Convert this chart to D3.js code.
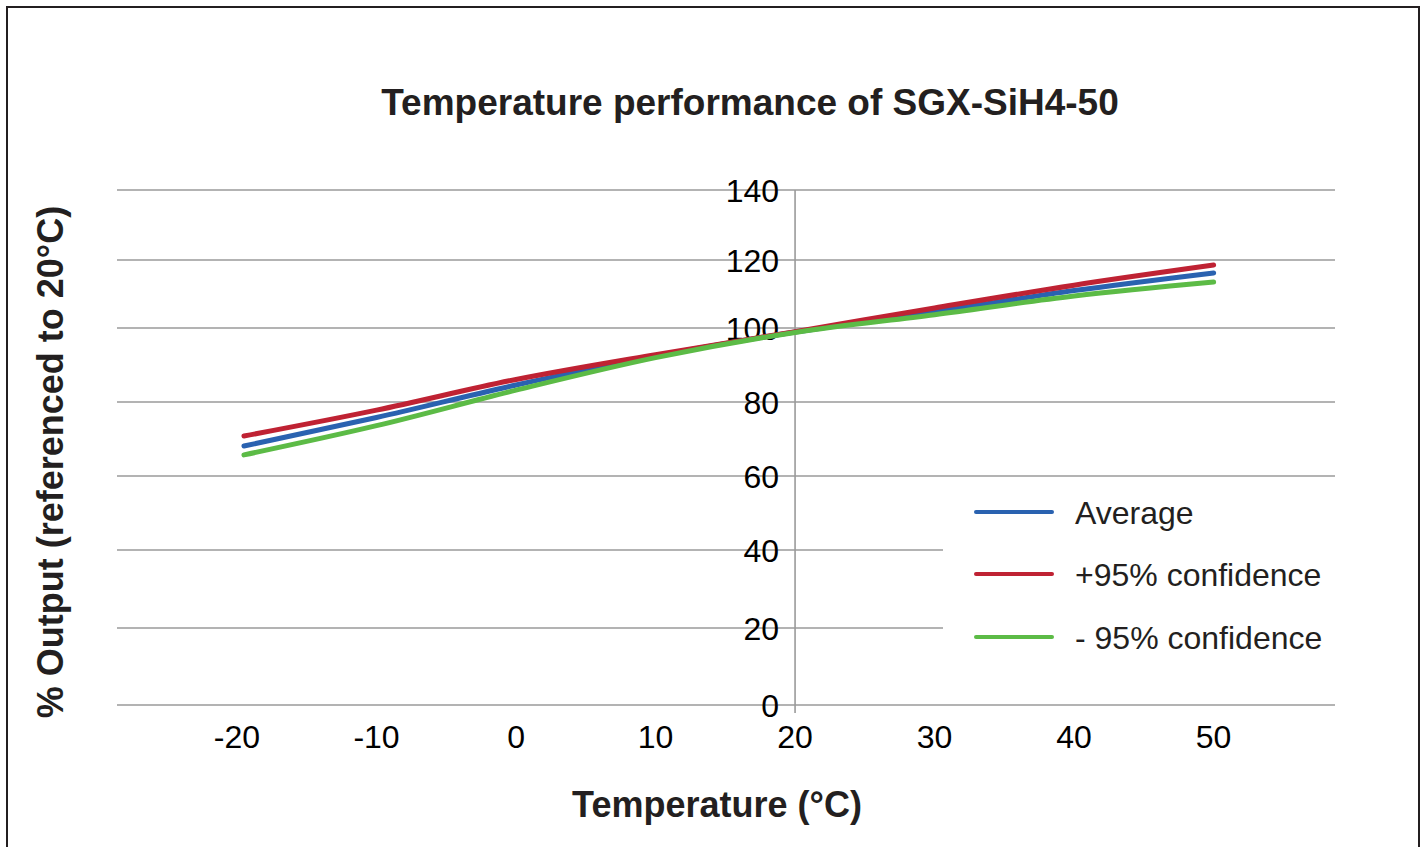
<!DOCTYPE html>
<html>
<head>
<meta charset="utf-8">
<script src="https://cdn.jsdelivr.net/npm/d3@7"></script>
<style>
  body { margin: 0; background: #fff; }
  text { font-family: "Liberation Sans", Arial, sans-serif; fill: #231f20; }
</style>
</head>
<body>
<div id="chart"></div>
<script>
// data
var temps = [-19.5, -10, 0, 10, 20, 30, 40, 50]
var average = [68.1, 75.8, 84.6, 92.4, 98.9, 104.8, 111.0, 116.2]
var plus95 = [70.8, 77.8, 86.1, 92.8, 99.0, 105.9, 112.6, 118.5]
var minus95 = [65.7, 73.6, 83.2, 92.0, 98.8, 103.9, 109.4, 113.5]
var xTicks = [-20, -10, 0, 10, 20, 30, 40, 50]
var yTicks = [0, 20, 40, 60, 80, 100, 120, 140]
var seriesNames = ["Average", "+95% confidence", "- 95% confidence"]
var seriesColors = ["#2a62b0", "#bf2233", "#5cbb46"]

var series = [average, plus95, minus95].map(function(vals, i) {
    return {
        name: seriesNames[i],
        color: seriesColors[i],
        points: vals.map(function(v, j) { return { t: temps[j], v: v } })
    }
})

var svgWidth = 1425
var svgHeight = 847

var svg = d3.select("#chart")
    .append("svg")
    .attr("width", svgWidth)
    .attr("height", svgHeight)

// frame
svg.append("rect")
    .attr("x", 7).attr("y", 7)
    .attr("width", 1412).attr("height", 860)
    .attr("fill", "none")
    .attr("stroke", "#231f20")
    .attr("stroke-width", 2)

var x = d3.scaleLinear()
    .domain([-28.6, 58.7])
    .range([117, 1335])

// the picture's gridlines are not evenly spaced, so follow them piece by piece
var y = d3.scaleLinear()
    .domain(yTicks)
    .range([705, 628, 550, 476, 402, 328, 260, 190])

// horizontal gridlines
var grid = svg.append("g")
grid.selectAll("line").data(yTicks)
    .enter().append("line")
    .attr("x1", x.range()[0])
    .attr("x2", x.range()[1])
    .attr("y1", function(d) { return y(d) })
    .attr("y2", function(d) { return y(d) })
    .attr("stroke", "#9a9a9a")
    .attr("stroke-width", 1.6)

// vertical axis at 20°C
svg.append("line")
    .attr("x1", x(20)).attr("x2", x(20))
    .attr("y1", y(140)).attr("y2", y(0) + 8)
    .attr("stroke", "#9a9a9a")
    .attr("stroke-width", 1.6)

// y tick labels
svg.append("g").selectAll("text").data(yTicks)
    .enter().append("text")
    .attr("x", x(20) - 16)
    .attr("y", function(d) { return y(d) })
    .attr("dy", "0.36em")
    .attr("text-anchor", "end")
    .style("font-size", "32px")
    .style("fill", "#000")
    .text(function(d) { return d })

// x tick labels
svg.append("g").selectAll("text").data(xTicks)
    .enter().append("text")
    .attr("x", function(d) { return x(d) })
    .attr("y", 748)
    .attr("text-anchor", "middle")
    .style("font-size", "32px")
    .style("fill", "#000")
    .text(function(d) { return d })

// series lines
var line = d3.line()
    .x(function(d) { return x(d.t) })
    .y(function(d) { return y(d.v) })
    .curve(d3.curveMonotoneX)

svg.append("g").selectAll("path").data(series)
    .enter().append("path")
    .attr("d", function(d) { return line(d.points) })
    .attr("fill", "none")
    .attr("stroke", function(d) { return d.color })
    .attr("stroke-width", 5)
    .attr("stroke-linecap", "round")
    .attr("stroke-linejoin", "round")

// legend (white box hides gridlines behind it)
var legend = svg.append("g")
legend.append("rect")
    .attr("x", 943).attr("y", 486)
    .attr("width", 395).attr("height", 190)
    .attr("fill", "#fff")

var legendRows = legend.selectAll("g.row").data(series)
    .enter().append("g").attr("class", "row")
    .attr("transform", function(d, i) {
        return "translate(0," + [512, 574, 637][i] + ")"
    })
legendRows.append("line")
    .attr("x1", 976).attr("x2", 1052)
    .attr("stroke", function(d) { return d.color })
    .attr("stroke-width", 4)
    .attr("stroke-linecap", "round")
legendRows.append("text")
    .attr("x", 1075)
    .attr("dy", "0.36em")
    .style("font-size", "32px")
    .text(function(d) { return d.name })

// titles
svg.append("text")
    .attr("x", 750).attr("y", 115)
    .attr("text-anchor", "middle")
    .style("font-size", "37px")
    .style("font-weight", "bold")
    .text("Temperature performance of SGX-SiH4-50")

svg.append("text")
    .attr("x", 717).attr("y", 817)
    .attr("text-anchor", "middle")
    .style("font-size", "36px")
    .style("font-weight", "bold")
    .text("Temperature (°C)")

svg.append("text")
    .attr("transform", "translate(63,462) rotate(-90)")
    .attr("text-anchor", "middle")
    .style("font-size", "36px")
    .style("font-weight", "bold")
    .text("% Output (referenced to 20°C)")
</script>
</body>
</html>
